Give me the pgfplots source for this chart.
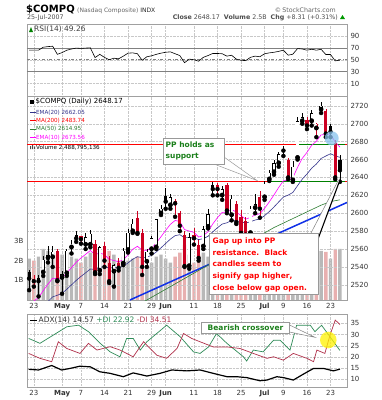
\documentclass[border=0pt]{standalone}
\usepackage{pgfplots}
\usepackage{pgfplotstable}
\pgfplotsset{compat=1.18}
\usepackage{fontspec}
\setmainfont{DejaVu Sans}
\newcommand{\fs}[1]{\fontsize{#1}{#1}\selectfont}
\definecolor{candred}{HTML}{CC0022}
\definecolor{volgrey}{HTML}{B8B8B8}
\definecolor{volpink}{HTML}{E8B0B0}
\definecolor{ematen}{HTML}{FF00FF}
\definecolor{ematwenty}{HTML}{33338C}
\definecolor{mafifty}{HTML}{2E7D32}
\definecolor{gridc}{HTML}{C8C8C8}
\definecolor{framec}{HTML}{A0A0A0}
\definecolor{dipos}{HTML}{2E8B57}
\definecolor{dineg}{HTML}{B0304A}
\definecolor{annogreen}{HTML}{1A7F1A}
\definecolor{trendblue}{HTML}{1030E8}
\definecolor{circblue}{HTML}{88C4EE}
\pgfplotsset{
 panel/.style={scale only axis, width=320pt, xmin=-0.45, xmax=67.5, anchor=north west,
   axis line style={framec}, tick style={draw=none}, grid=major,
   grid style={gridc, densely dotted, line width=0.4pt},
   xtick={1,7,11,16,21,26,29,35,40,45,50,54,59,64},
   yticklabel pos=right,
   yticklabel style={anchor=west, font=\fs{7}, text=black!80},
   /pgf/number format/assume math mode=true, /pgf/number format/1000 sep={}},
 xlabs/.style={xticklabels={23,\textbf{May},7,14,21,29,\textbf{Jun},11,18,25,\textbf{Jul},9,16,23},
   xticklabel style={font=\fs{7}, text=black!80}},
 cbar/.style 2 args={only marks, mark=none, error bars/.cd, y dir=plus, y explicit, error mark=none,
   error bar style={line width=#2, draw=#1, line cap=butt}},
}
% candles: i, low, body low, body high, high
\pgfplotstableread{
i L BL BH H
0 2514 2527 2534 2537
2 2507 2524 2528 2531
10 2568 2572 2576 2580
29 2605 2613 2619 2628
39 2620 2627 2632 2635
54 2664 2670 2671 2675
64 2685 2691 2697 2700
66 2635 2648 2660 2665
}\kfT
\pgfplotstableread{
i L BL BH H
3 2530 2534 2548 2552
4 2545 2550 2553 2563
5 2540 2551 2557 2563
7 2510 2528 2532 2535
8 2530 2533 2558 2560
9 2555 2562 2566 2570
12 2560 2565 2573 2578
13 2562 2565 2577 2581
15 2532 2536 2562 2563
18 2518 2535 2542 2543
20 2542 2544 2558 2561
21 2556 2559 2578 2582
22 2578 2580 2588 2593
25 2540 2546 2557 2560
26 2555 2560 2572 2575
27 2560 2562 2593 2594
28 2598 2600 2605 2609
30 2605 2609 2618 2622
34 2538 2541 2573 2578
37 2560 2563 2582 2586
38 2583 2585 2599 2605
41 2615 2620 2627 2630
43 2592 2598 2616 2620
47 2570 2578 2605 2608
48 2600 2606 2610 2621
50 2615 2618 2633 2636
51 2636 2638 2645 2648
52 2643 2646 2656 2660
53 2652 2656 2666 2668
56 2635 2637 2652 2658
57 2660 2662 2703 2708
58 2700 2703 2707 2712
60 2698 2703 2712 2715
62 2712 2716 2720 2724
}\khT
\pgfplotstableread{
i L BL BH H
1 2518 2524 2527 2531
6 2524 2525 2558 2560
11 2566 2571 2574 2575
14 2532 2534 2566 2570
16 2540 2547 2563 2568
17 2522 2524 2544 2552
19 2536 2539 2544 2550
23 2577 2578 2595 2602
24 2531 2540 2578 2582
31 2596 2611 2614 2616
32 2580 2586 2600 2602
33 2540 2541 2576 2580
35 2565 2572 2576 2584
36 2547 2550 2565 2570
40 2620 2627 2631 2634
42 2600 2603 2632 2634
44 2588 2590 2610 2614
45 2572 2578 2596 2604
46 2572 2576 2591 2596
49 2595 2605 2618 2625
55 2638 2640 2660 2662
59 2694 2698 2704 2708
63 2685 2689 2714 2716
65 2638 2640 2678 2682
}\rfT
\pgfplotstableread{
i L BL BH H
61 2685 2695 2700 2701
}\rhT
\begin{document}
\begin{tikzpicture}[x=1pt,y=1pt]
\path[use as bounding box] (0,0) rectangle (382,-400);
\fill[white] (0,0) rectangle (382,-400);
% header
\node[anchor=base west, inner sep=0, font=\fs{10}\bfseries] at (26,-12) {\$COMPQ};
\node[anchor=base west, inner sep=0, font=\fs{6}, text=black!60] at (77,-12) {(Nasdaq Composite) \textcolor{black!85}{INDX}};
\node[anchor=base east, inner sep=0, font=\fs{6.3}, text=black!60] at (336,-12) {\textcopyright\,StockCharts.com};
\node[anchor=base west, inner sep=0, font=\fs{6.3}, text=black!70] at (27,-19.5) {25-Jul-2007};
\node[anchor=base east, inner sep=0, font=\fs{6.3}, text=black!70] at (338,-19.5) {\textbf{Close} 2648.17 \ \textbf{Volume} 2.5B \ \textbf{Chg} +8.31 (+0.31\%)};
\fill[green!60!black] (340,-19) -- (345,-19) -- (342.5,-15) -- cycle;
% RSI
\begin{axis}[panel, at={(27pt,-24pt)}, height=72pt, ymin=-11, ymax=110, ytick={10,30,50,70,90}, xticklabels={}]
\addplot[gray, line width=0.6pt] coordinates {(-0.45,70) (67.5,70)};
\addplot[gray, line width=0.6pt] coordinates {(-0.45,30) (67.5,30)};
\addplot[gray, dash dot, line width=0.6pt] coordinates {(-0.45,50) (67.5,50)};
\addplot[black, line width=0.6pt] table {
x y
0 66
1 66
2 66
3 71
4 72
5 72.7
6 59
7 62
8 66
9 68
10 69.5
11 69
12 69.5
13 70
14 53.6
15 59
16 54
17 50
18 52.5
19 51.5
20 56
21 61
22 61.5
23 60
24 49
25 55
26 56.5
27 59
28 61
29 62.5
30 63.2
31 60
32 57
33 45
34 51
35 50
36 47.5
37 54
38 57
39 60.5
40 60.5
41 60
42 56
43 57.5
44 51
45 49
46 48.5
47 54
48 56
49 55
50 60
51 61.5
52 62.5
53 64
54 66
55 57.6
56 59.3
57 68.7
58 68
59 66
60 67.6
61 66
62 67.5
63 58.7
64 58.7
65 48
66 49.26
};
\end{axis}
\fill[green!50!black] (29,-32) -- (31,-27) -- (33,-32) -- cycle;
\node[anchor=west, inner sep=0, font=\fs{7.5}, text=black!75] at (34,-29.5) {RSI(14) 49.26};
% Volume
\begin{axis}[scale only axis, width=320pt, height=204pt, at={(27pt,-96pt)}, anchor=north west,
  xmin=-0.45, xmax=67.5, ymin=0, ymax=10.36, hide x axis, axis y line*=left,
  y axis line style={draw=none}, ytick={1,2,3}, yticklabels={1B,2B,3B}, tick style={draw=none},
  yticklabel style={font=\fs{7}, text=black!80}]
\addplot[ybar, bar width=0.72, bar shift=0pt, fill=volgrey, draw=none] coordinates {(0,2.1)(2,2.2)(3,2.6)(4,2.5)(5,2.4)(7,2.3)(8,2.4)(9,2.2)(10,2.1)(12,2.2)(13,2.4)(15,2.3)(18,2.3)(20,2.2)(21,2.0)(22,2.1)(25,1.6)(26,1.9)(27,2.2)(28,2.3)(29,2.1)(30,1.9)(34,2.3)(37,2.4)(38,2.2)(39,2.6)(41,2.0)(43,2.1)(47,2.3)(48,2.2)(50,1.8)(51,1.0)(52,1.6)(53,1.7)(54,1.8)(56,2.0)(57,2.6)(58,2.1)(60,2.3)(62,2.5)(64,2.1)(66,2.6)};
\addplot[ybar, bar width=0.72, bar shift=0pt, fill=volpink, draw=none] coordinates {(1,2.0)(6,2.3)(11,1.9)(14,2.6)(16,2.1)(17,2.5)(19,2.0)(23,2.2)(24,2.5)(31,2.2)(32,2.4)(33,2.8)(35,1.9)(36,2.3)(40,1.9)(42,2.3)(44,2.5)(45,2.3)(46,2.2)(49,2.5)(55,2.2)(59,2.0)(61,2.4)(63,2.45)(65,2.6)};
\end{axis}
% Price
\begin{axis}[panel, xlabs, at={(27pt,-96pt)}, height=204pt, ymin=2503, ymax=2731, ytick={2520,2540,...,2720}]
\addplot[red, line width=0.9pt] coordinates {(-0.45,2677.2) (67.5,2677.2)};
\addplot[red, line width=0.9pt] coordinates {(-0.45,2635.4) (67.5,2635.4)};
\addplot[green!50!black, line width=0.9pt] coordinates {(56.9,2677.2) (67.1,2677.2)};
\addplot[green!50!black, line width=0.9pt] coordinates {(50.7,2635.4) (67.1,2635.4)};
\addplot[trendblue, line width=1.5pt] coordinates {(21.4,2503) (67.5,2612)};
\addplot[mafifty, line width=0.6pt] coordinates {(24,2500)(26,2506)(28,2512)(30,2518)(32,2524)(34,2530)(36,2536)(38,2542)(40,2548)(42,2554)(44,2560)(46,2566)(48,2572)(50,2578)(52,2584)(54,2589)(56,2594)(58,2599)(60,2604)(62,2609)(64,2613)(66,2615)};
\addplot[ematwenty, line width=0.6pt] coordinates {(0,2482.7)(1,2486.6)(2,2490.2)(3,2495.7)(4,2501.2)(5,2506.5)(6,2508.3)(7,2510.5)(8,2515.0)(9,2519.9)(10,2524.9)(11,2529.3)(12,2533.4)(13,2537.6)(14,2537.2)(15,2539.6)(16,2540.3)(17,2538.8)(18,2539.1)(19,2539.1)(20,2540.9)(21,2544.4)(22,2548.6)(23,2551.4)(24,2550.3)(25,2550.9)(26,2552.9)(27,2556.7)(28,2561.3)(29,2566.2)(30,2571.1)(31,2574.9)(32,2576.0)(33,2572.7)(34,2572.7)(35,2572.6)(36,2570.5)(37,2571.6)(38,2574.2)(39,2579.2)(40,2583.8)(41,2587.9)(42,2589.3)(43,2591.8)(44,2591.6)(45,2590.3)(46,2589.0)(47,2590.5)(48,2592.4)(49,2593.6)(50,2597.3)(51,2601.8)(52,2607.0)(53,2612.6)(54,2618.1)(55,2620.2)(56,2623.2)(57,2630.8)(58,2638.1)(59,2643.8)(60,2650.3)(61,2655.0)(62,2661.2)(63,2663.9)(64,2666.5)(65,2664.0)(66,2662.5)};
\addplot[ematen, line width=0.6pt] coordinates {(0,2496.7)(1,2501.7)(2,2505.8)(3,2513.5)(4,2520.7)(5,2527.3)(6,2526.9)(7,2527.8)(8,2533.3)(9,2539.2)(10,2545.2)(11,2549.9)(12,2554.1)(13,2558.3)(14,2553.9)(15,2555.4)(16,2553.8)(17,2548.4)(18,2547.2)(19,2545.7)(20,2548.0)(21,2553.4)(22,2559.7)(23,2563.0)(24,2558.8)(25,2558.5)(26,2561.0)(27,2566.8)(28,2573.7)(29,2580.9)(30,2587.6)(31,2591.9)(32,2590.8)(33,2581.7)(34,2580.1)(35,2578.6)(36,2573.4)(37,2575.0)(38,2579.4)(39,2588.0)(40,2595.1)(41,2600.9)(42,2601.3)(43,2604.0)(44,2601.4)(45,2597.2)(46,2593.3)(47,2595.4)(48,2598.1)(49,2599.4)(50,2605.5)(51,2612.7)(52,2620.5)(53,2628.8)(54,2636.3)(55,2637.0)(56,2639.7)(57,2651.2)(58,2661.3)(59,2668.0)(60,2676.0)(61,2680.4)(62,2687.6)(63,2687.8)(64,2688.4)(65,2679.6)(66,2673.9)};
% wicks
\addplot[cbar={black}{0.6pt}] table[x=i, y=L, y error plus expr=\thisrow{H}-\thisrow{L}] \kfT;
\addplot[cbar={black}{0.6pt}] table[x=i, y=L, y error plus expr=\thisrow{H}-\thisrow{L}] \khT;
\addplot[cbar={candred}{0.6pt}] table[x=i, y=L, y error plus expr=\thisrow{H}-\thisrow{L}] \rfT;
\addplot[cbar={candred}{0.6pt}] table[x=i, y=L, y error plus expr=\thisrow{H}-\thisrow{L}] \rhT;
% bodies
\addplot[cbar={black}{3.2pt}] table[x=i, y=BL, y error plus expr=\thisrow{BH}-\thisrow{BL}] \kfT;
\addplot[cbar={candred}{3.2pt}] table[x=i, y=BL, y error plus expr=\thisrow{BH}-\thisrow{BL}] \rfT;
\addplot[cbar={black}{3.2pt}] table[x=i, y=BL, y error plus expr=\thisrow{BH}-\thisrow{BL}] \khT;
\addplot[cbar={white}{2.2pt}] table[x=i, y expr=\thisrow{BL}+0.56, y error plus expr=\thisrow{BH}-\thisrow{BL}-1.12] \khT;
\addplot[cbar={candred}{3.2pt}] table[x=i, y=BL, y error plus expr=\thisrow{BH}-\thisrow{BL}] \rhT;
\addplot[cbar={white}{2.2pt}] table[x=i, y expr=\thisrow{BL}+0.56, y error plus expr=\thisrow{BH}-\thisrow{BL}-1.12] \rhT;
\end{axis}
% price legend
\fill[black] (29.5,-99.5) rectangle (33.5,-104);
\node[anchor=west, inner sep=0, font=\fs{7}] at (35.5,-101.7) {\$COMPQ (Daily) 2648.17};
\foreach \yy/\cc/\tt in {112.3/ematwenty/EMA(20) 2662.05, 120.7/red/MA(200) 2483.74, 129/mafifty/MA(50) 2614.95, 137.3/ematen/EMA(10) 2673.56}{
  \draw[\cc, line width=0.9pt] (30,-\yy) -- (35.5,-\yy);
  \node[anchor=west, inner sep=0, font=\fs{5.6}, text=\cc] at (36,-\yy) {\tt};
}
\fill[black!70] (30,-149) rectangle (31,-146) (32,-149) rectangle (33,-145) (34,-149) rectangle (35,-146.5);
\node[anchor=west, inner sep=0, font=\fs{5.6}] at (36,-147.3) {Volume 2,488,795,136};
\fill[circblue, opacity=0.75] (331.7,-138.3) circle (7);
% PP holds callout
\filldraw[fill=white, draw=gray!80, line width=0.5pt] (214,-164) -- (257,-180.5) -- (224,-157) -- cycle;
\filldraw[fill=white, draw=gray!80, line width=0.5pt] (163,-138) rectangle (224,-164);
\node[anchor=base west, inner sep=0, font=\fs{7.5}\bfseries, text=annogreen] at (165.5,-147) {PP holds as};
\node[anchor=base west, inner sep=0, font=\fs{7.5}\bfseries, text=annogreen] at (165.5,-158.5) {support};
% Gap up callout
\fill[white] (311,-233) -- (338.5,-180) -- (340.5,-178.5) -- (318,-239) -- cycle;
\draw[gray, line width=0.5pt] (311,-233) -- (338.5,-180);
\draw[black, line width=1.1pt] (318,-239) -- (340.5,-178.5);
\filldraw[fill=white, draw=gray!80, line width=0.5pt] (209,-233) rectangle (318,-294);
\foreach \yy/\tt in {243/Gap up into PP, 255/resistance.\ \ Black, 266.5/candles seem to, 278/signify gap higher\mbox{,}, 290/close below gap open.}{
  \node[anchor=base west, inner sep=0, font=\fs{7.5}\bfseries, text=red] at (212.5,-\yy) {\tt};
}
% ADX
\begin{axis}[panel, xlabs, at={(27pt,-314pt)}, height=73pt, ymin=6.6, ymax=39.2, ytick={10,15,...,35}]
\addplot[dipos, line width=0.7pt] coordinates {(-0.1,28.3)(2.3,26.1)(8.0,33.5)(10.5,34.2)(12.6,31.3)(15.1,26.1)(17.2,22.3)(19.3,20.1)(20.7,28.3)(22.1,28.3)(23.6,23.1)(25.0,26.8)(29.2,34.2)(32.1,29.0)(34.9,22.3)(36.3,21.6)(38.1,24.5)(39.8,30.5)(42.0,26.1)(45.5,20.1)(46.2,18.2)(47.6,23.1)(49.7,22.3)(51.9,27.5)(53.3,27.5)(55.4,23.1)(56.8,34.2)(59.7,34.2)(60.7,31.3)(62.1,34.2)(63.9,29.0)(66.0,22.92)};
\addplot[dineg, line width=0.7pt] coordinates {(-0.1,21.6)(2.3,19.4)(4.8,17.9)(6.2,26.8)(8.0,23.8)(10.8,21.6)(12.6,26.1)(14.4,23.1)(17.2,24.6)(19.3,23.1)(22.1,20.1)(24.3,26.8)(27.1,20.8)(29.2,19.4)(31.4,23.8)(32.8,30.5)(34.5,28.3)(36.3,26.8)(39.1,24.5)(42.0,24.5)(44.8,23.8)(47.6,21.6)(50.5,19.4)(51.9,20.1)(54.0,18.6)(56.1,21.6)(59.0,19.4)(60.4,17.9)(61.1,23.1)(62.8,21.6)(63.9,29.8)(65.0,36.5)(66.0,34.51)};
\addplot[black, line width=1.2pt] coordinates {(-0.1,14.5)(2.0,14.2)(4.8,16.2)(6.9,14.2)(8.7,14.9)(10.8,15.9)(13.0,15.6)(15.0,13.4)(17.2,12.7)(20.0,11.2)(22.1,12.9)(25.0,11.5)(27.8,12.7)(30.3,14.2)(33.5,13.8)(36.3,14.2)(39.1,12.7)(42.0,11.2)(44.1,11.2)(46.2,10.8)(49.0,9.4)(50.5,9.7)(52.6,11.2)(54.0,10.8)(56.1,9.7)(58.2,12.3)(60.4,14.9)(62.5,14.9)(64.6,13.8)(66.0,14.57)};
\end{axis}
\draw[black, line width=1pt] (30,-320.5) -- (37,-320.5);
\node[anchor=west, inner sep=0, font=\fs{7.5}, text=black!80] at (38.5,-320.5) {ADX(14) 14.57 \textcolor{dipos}{+DI 22.92} \textcolor{dineg}{-DI 34.51}};
\fill[yellow, opacity=0.75] (328.3,-340) circle (8.3);
\filldraw[fill=white, draw=gray, line width=0.5pt] (289.5,-325) -- (315,-337.3) -- (289.5,-332) -- cycle;
\filldraw[fill=white, draw=gray!80, line width=0.5pt] (201.5,-322.5) rectangle (289.5,-333.5);
\node[inner sep=0, font=\fs{7.5}\bfseries, text=annogreen] at (245.5,-328) {Bearish crossover};
\end{tikzpicture}
\end{document}
